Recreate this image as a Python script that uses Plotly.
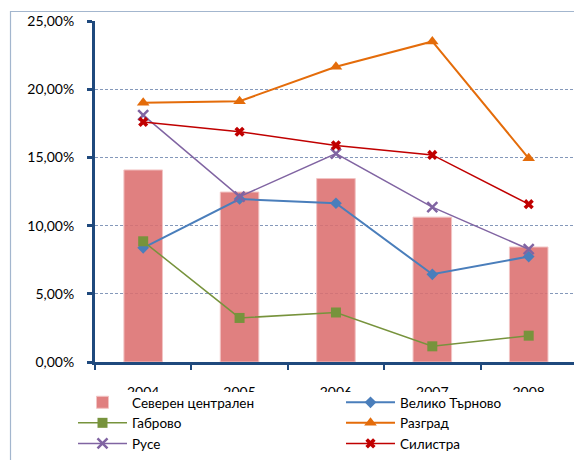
import plotly.graph_objects as go

years = ["2004", "2005", "2006", "2007", "2008"]
severen_centralen = [0.1408, 0.1246, 0.1345, 0.1062, 0.0843]
veliko_tarnovo = [0.0837, 0.1195, 0.1164, 0.0643, 0.0773]
gabrovo = [0.0885, 0.0323, 0.0363, 0.0115, 0.0193]
razgrad = [0.1900, 0.1912, 0.2165, 0.2350, 0.1493]
ruse = [0.1810, 0.1212, 0.1528, 0.1135, 0.0827]
silistra = [0.1760, 0.1688, 0.1588, 0.1518, 0.1157]

axis_color = "#1F497D"
font_family = "Lato, 'Liberation Sans', sans-serif"

fig = go.Figure()
fig.add_trace(go.Bar(
    x=years, y=severen_centralen, name="Северен централен", width=0.4,
    marker=dict(color="rgba(220,110,110,0.88)", line=dict(color="#F2C4C4", width=1)),
))
fig.add_trace(go.Scatter(
    x=years, y=veliko_tarnovo, name="Велико Търново", mode="lines+markers",
    line=dict(color="#4A7EBB", width=2),
    marker=dict(symbol="diamond", size=9, color="#4A7EBB"),
))
fig.add_trace(go.Scatter(
    x=years, y=gabrovo, name="Габрово", mode="lines+markers",
    line=dict(color="#77933C", width=1.5),
    marker=dict(symbol="square", size=10, color="#77933C"),
))
fig.add_trace(go.Scatter(
    x=years, y=razgrad, name="Разград", mode="lines+markers",
    line=dict(color="#E46C0A", width=2),
    marker=dict(symbol="triangle-up", size=11, color="#E46C0A"),
))
fig.add_trace(go.Scatter(
    x=years, y=ruse, name="Русе", mode="lines+markers",
    line=dict(color="#8064A2", width=1.5),
    marker=dict(symbol="x-thin", size=10, color="#8064A2",
                line=dict(color="#8064A2", width=2.5)),
))
fig.add_trace(go.Scatter(
    x=years, y=silistra, name="Силистра", mode="lines+markers",
    line=dict(color="#C00000", width=1.5),
    marker=dict(symbol="x", size=9, color="#C00000"),
))

W, H = 574, 460
ml, mr, mt, mb = 95, 0, 21, 98
pw, ph = W - ml - mr, H - mt - mb

def px_x(p):
    return (p - ml) / pw

def px_y(p):
    return (H - mb - p) / ph

fig.update_layout(
    width=W, height=H,
    margin=dict(l=ml, r=mr, t=mt, b=mb, autoexpand=False),
    paper_bgcolor="white", plot_bgcolor="white",
    separators=", ",
    font=dict(family=font_family, size=14, color="black"),
    barmode="overlay",
    showlegend=True,
    legend=dict(
        orientation="h", xref="paper", yref="paper",
        x=px_x(73), y=px_y(387), xanchor="left", yanchor="top",
        bgcolor="rgba(0,0,0,0)", borderwidth=0,
        entrywidth=204, entrywidthmode="pixels", itemwidth=49,
        traceorder="normal",
        font=dict(family=font_family, size=13.5, color="black"),
    ),
    xaxis=dict(
        type="category", range=[-0.5, 4.47],
        tickson="boundaries", ticks="outside", ticklen=5, tickwidth=2,
        tickcolor=axis_color, showline=True, linewidth=3, linecolor=axis_color,
        showgrid=False, zeroline=False, automargin=False,
        ticklabelstandoff=15,
        tickfont=dict(family=font_family, size=14, color="black"),
    ),
    yaxis=dict(
        range=[0, 0.25], dtick=0.05, tick0=0, tickformat=".2%",
        showgrid=True, gridcolor="#8498BA", gridwidth=1, griddash="3px,2px",
        showline=True, linewidth=3, linecolor=axis_color,
        ticks="outside", ticklen=5, tickwidth=2.5, tickcolor=axis_color,
        zeroline=False, automargin=False, ticklabelstandoff=10,
        tickfont=dict(family=font_family, size=14, color="black"),
    ),
    shapes=[
        dict(
            type="rect", xref="paper", yref="paper",
            x0=px_x(10.5), x1=1.1, y0=-0.5, y1=px_y(11.5),
            line=dict(color="#A3B6CE", width=1.2), fillcolor="rgba(0,0,0,0)",
            layer="below",
        ),
        # white legend box that hides the lower part of the category labels
        dict(
            type="rect", xref="paper", yref="paper",
            x0=px_x(66), x1=1.0, y0=px_y(455), y1=px_y(392),
            line=dict(width=0), fillcolor="white", layer="above",
        ),
    ],
)

fig.write_html("out.html", config={"displayModeBar": False},
               post_script="document.body.style.margin='0px';")
